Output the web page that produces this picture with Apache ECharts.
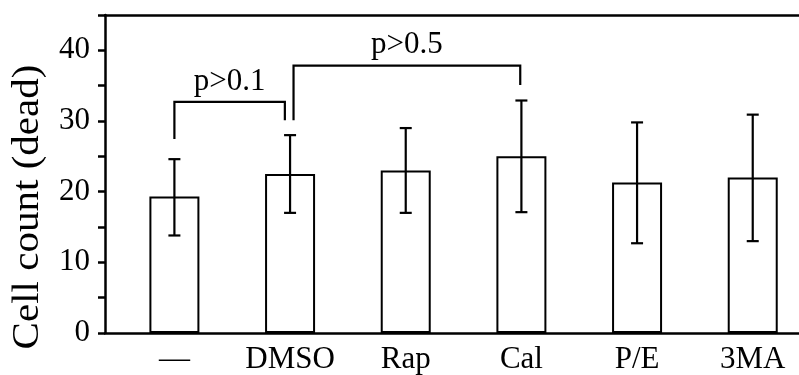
<!DOCTYPE html>
<html>
<head>
<meta charset="utf-8">
<script src="https://cdn.jsdelivr.net/npm/echarts@6/dist/echarts.min.js"></script>
<style>
    html, body { margin: 0; padding: 0; background: #fff; }
    #chart { width: 799px; height: 375px; }
</style>
</head>
<body>
<div id="chart"></div>
<script>
// groups and values
const categories = ["—", "DMSO", "Rap", "Cal", "P/E", "3MA"];
const means   = [19.3, 22.5, 23.0, 25.0, 21.3, 22.0];
const errHigh = [24.6, 28.0, 29.0, 32.9, 29.8, 30.9];
const errLow  = [13.8, 17.0, 17.0, 17.1, 12.7, 13.0];

const yTickLabels = [0, 10, 20, 30, 40];
const yTicks = [0, 5, 10, 15, 20, 25, 30, 35, 40, 45];

// significance brackets (x in category index, y in cell count)
const bracketLabels   = ["p>0.1", "p>0.5"];
const bracketFrom     = [0, 1.03];
const bracketTo       = [0.955, 2.99];
const bracketLeftEnd  = [27.45, 30.1];
const bracketTop      = [32.7, 37.85];
const bracketRightEnd = [30.1, 35.1];

const FONT = "'Liberation Serif', 'DejaVu Serif', serif";
const INK = "#000";

const chart = echarts.init(document.getElementById("chart"));

const barData = means.map((v, i) => [i, v]);
const errData = means.map((v, i) => [i, errHigh[i], errLow[i]]);
const bracketData = bracketLabels.map((_, i) => [
    bracketFrom[i], bracketTo[i], bracketLeftEnd[i], bracketTop[i], bracketRightEnd[i], i
]);

chart.setOption({
    backgroundColor: "#fff",
    animation: false,
    grid: { left: 105, right: 0, top: 15, bottom: 42 },

    xAxis: [
        {
            type: "value",
            min: -0.6,
            max: 5.4,
            axisLine: { show: true, onZero: false, lineStyle: { color: INK, width: 2.5 } },
            axisTick: { show: false },
            splitLine: { show: false },
            axisLabel: {
                customValues: [0, 1, 2, 3, 4, 5],
                formatter: v => categories[Math.round(v)] ?? "",
                color: INK,
                fontFamily: FONT,
                fontSize: 31,
                margin: 11
            }
        },
        {
            // top frame line
            type: "value",
            position: "top",
            min: -0.6,
            max: 5.4,
            axisLine: { show: true, onZero: false, lineStyle: { color: INK, width: 2.5 } },
            axisTick: { show: false },
            axisLabel: { show: false },
            splitLine: { show: false }
        }
    ],

    yAxis: {
        type: "value",
        min: 0,
        max: 45,
        axisLine: { show: true, onZero: false, lineStyle: { color: INK, width: 2.5 } },
        axisTick: {
            show: true,
            customValues: yTicks,
            length: 7,
            lineStyle: { color: INK, width: 2.5 }
        },
        axisLabel: {
            customValues: yTickLabels,
            color: INK,
            fontFamily: FONT,
            fontSize: 31,
            margin: 15
        },
        splitLine: { show: false }
    },

    graphic: [
        {
            type: "text",
            x: 28,
            y: 207,
            rotation: Math.PI / 2,
            scaleX: 1.08,
            style: {
                text: "Cell count (dead)",
                font: "38px " + FONT,
                fill: INK,
                align: "center",
                verticalAlign: "middle"
            }
        }
    ],

    series: [
        {
            name: "Cell count",
            type: "bar",
            data: barData,
            barWidth: 50,
            itemStyle: { color: "#fff", borderColor: INK, borderWidth: 2 },
            z: 2
        },
        {
            name: "SD",
            type: "custom",
            data: errData,
            z: 3,
            renderItem: function (params, api) {
                const x = api.value(0);
                const top = api.coord([x, api.value(1)]);
                const bot = api.coord([x, api.value(2)]);
                const cap = 6;
                const style = { stroke: INK, lineWidth: 2.2 };
                return {
                    type: "group",
                    children: [
                        { type: "line", shape: { x1: top[0], y1: top[1], x2: bot[0], y2: bot[1] }, style },
                        { type: "line", shape: { x1: top[0] - cap, y1: top[1], x2: top[0] + cap, y2: top[1] }, style },
                        { type: "line", shape: { x1: bot[0] - cap, y1: bot[1], x2: bot[0] + cap, y2: bot[1] }, style }
                    ]
                };
            }
        },
        {
            name: "Brackets",
            type: "custom",
            data: bracketData,
            z: 3,
            renderItem: function (params, api) {
                const x1 = api.value(0), x2 = api.value(1);
                const a = api.coord([x1, api.value(2)]);
                const b = api.coord([x1, api.value(3)]);
                const c = api.coord([x2, api.value(3)]);
                const d = api.coord([x2, api.value(4)]);
                const label = bracketLabels[api.value(5)];
                return {
                    type: "group",
                    children: [
                        {
                            type: "polyline",
                            shape: { points: [a, b, c, d] },
                            style: { stroke: INK, lineWidth: 2.2, fill: null }
                        },
                        {
                            type: "text",
                            x: (b[0] + c[0]) / 2,
                            y: b[1] - 5,
                            style: {
                                text: label,
                                font: "31px " + FONT,
                                fill: INK,
                                align: "center",
                                verticalAlign: "bottom"
                            }
                        }
                    ]
                };
            }
        }
    ]
});
</script>
</body>
</html>
